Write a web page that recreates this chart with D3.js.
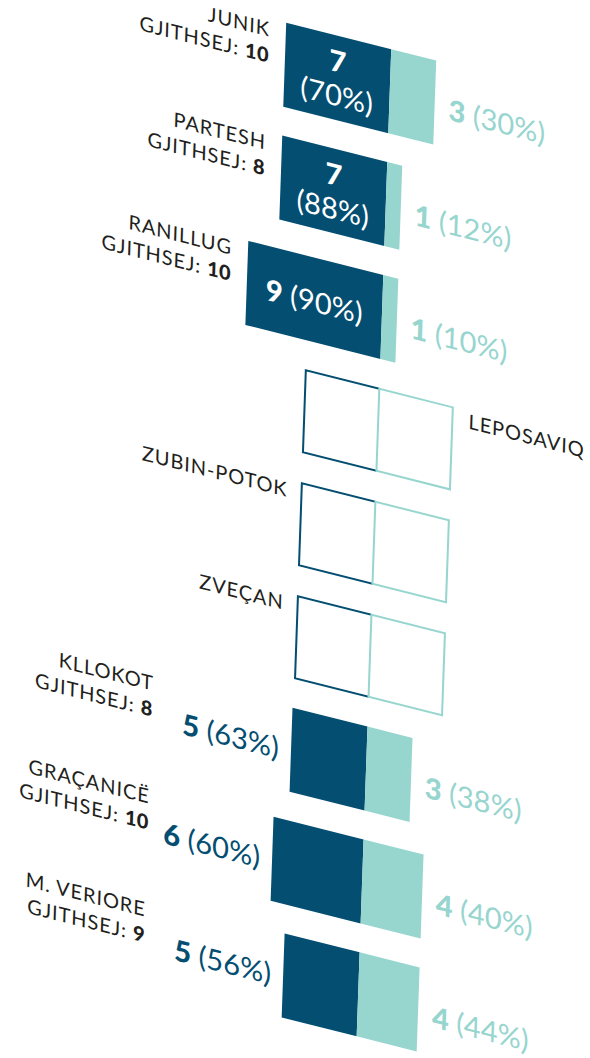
<!DOCTYPE html>
<html>
<head>
<meta charset="utf-8">
<script src="https://cdn.jsdelivr.net/npm/d3@7"></script>
<style>
  html, body { margin: 0; padding: 0; background: #fff; }
  svg { display: block; }
</style>
</head>
<body>
<script>
// Municipalities and their counts (primary / secondary share of the total)
const municipalities = ["JUNIK", "PARTESH", "RANILLUG", "LEPOSAVIQ", "ZUBIN-POTOK", "ZVEÇAN", "KLLOKOT", "GRAÇANICË", "M. VERIORE"];
const totals          = [10, 8, 10, null, null, null, 8, 10, 9];
const primaryCounts   = [7, 7, 9, null, null, null, 5, 6, 5];
const secondaryCounts = [3, 1, 1, null, null, null, 3, 4, 4];
const primaryPct      = ["70%", "88%", "90%", null, null, null, "63%", "60%", "56%"];
const secondaryPct    = ["30%", "12%", "10%", null, null, null, "38%", "40%", "44%"];
const totalPrefix = "GJITHSEJ: ";

// Layout
const W = 590, H = 1058;
const DARK = "#044e72", LIGHT = "#97d5cf", INK = "#231f20";
const FONT = "Lato, 'Open Sans', sans-serif";
const divider = 389.5;          // shared split line between the two segments
const rowStep = 112.9, barH = 84, firstTop = -49;
const emptyHalf = 73.5;         // half width of the outline drawn for rows without data
const pad = 1 - barH / rowStep;
const nameCol = 176;            // right edge of names when the value sits outside
const nameSize = 20, nameTrack = 0.9, valueSize = 29;

const rows = municipalities.map((name, i) => ({
  name, total: totals[i], p: primaryCounts[i], s: secondaryCounts[i],
  pp: primaryPct[i], sp: secondaryPct[i], empty: totals[i] == null
}));

const unit = d3.scaleLinear().domain([0, 1]).range([0, 15]);
const y = d3.scaleBand()
  .domain(municipalities)
  .range([firstTop, firstTop + rowStep * (municipalities.length - pad)])
  .paddingInner(pad).paddingOuter(0);

const svg = d3.select("body").append("svg")
  .attr("width", W).attr("height", H)
  .attr("viewBox", `0 0 ${W} ${H}`);

// The whole graphic is drawn on a slanted plane
const g = svg.append("g")
  .attr("transform", "matrix(1,0.252,-0.035,1,0,0)")
  .style("font-family", FONT);

const row = g.selectAll("g.row").data(rows).join("g")
  .attr("class", "row")
  .attr("transform", d => `translate(0,${y(d.name)})`);

// Filled bars
const filled = row.filter(d => !d.empty);
filled.append("rect")
  .attr("x", d => divider - unit(d.p)).attr("y", 0)
  .attr("width", d => unit(d.p)).attr("height", barH)
  .attr("fill", DARK);
filled.append("rect")
  .attr("x", divider).attr("y", 0)
  .attr("width", d => unit(d.s)).attr("height", barH)
  .attr("fill", LIGHT);

// Outline placeholders for rows without data
const empty = row.filter(d => d.empty);
empty.append("path")
  .attr("d", `M${divider},1 H${divider - emptyHalf} V${barH - 1} H${divider}`)
  .attr("fill", "none").attr("stroke", DARK).attr("stroke-width", 2);
empty.append("rect")
  .attr("x", divider).attr("y", 1)
  .attr("width", emptyHalf).attr("height", barH - 2)
  .attr("fill", "none").attr("stroke", LIGHT).attr("stroke-width", 2);

// Placeholder row names: first one to the right, the rest to the left
empty.append("text")
  .attr("x", (d, i) => i === 0 ? divider + emptyHalf + 16 : divider - emptyHalf - 14)
  .attr("y", 18)
  .attr("text-anchor", (d, i) => i === 0 ? "start" : "end")
  .attr("fill", INK).attr("font-size", nameSize).attr("letter-spacing", nameTrack)
  .text(d => d.name);

// Value of the primary segment: inside when the segment is wide, outside otherwise
const inside = d => d.p >= 7;
filled.each(function (d) {
  const sel = d3.select(this);
  const left = divider - unit(d.p);
  const w = unit(d.p);
  if (inside(d)) {
    const cx = left + w / 2;
    if (w > 120) {
      const t = sel.append("text").attr("x", cx).attr("y", 54)
        .attr("text-anchor", "middle").attr("fill", "#fff").attr("font-size", valueSize);
      t.append("tspan").attr("font-weight", 900).text(d.p);
      t.append("tspan").text(` (${d.pp})`);
    } else {
      sel.append("text").attr("x", cx).attr("y", 36)
        .attr("text-anchor", "middle").attr("fill", "#fff")
        .attr("font-size", valueSize).attr("font-weight", 900).text(d.p);
      sel.append("text").attr("x", cx).attr("y", 70)
        .attr("text-anchor", "middle").attr("fill", "#fff")
        .attr("font-size", valueSize).text(`(${d.pp})`);
    }
  } else {
    const t = sel.append("text").attr("x", left - 12).attr("y", 54)
      .attr("text-anchor", "end").attr("fill", DARK).attr("font-size", valueSize);
    t.append("tspan").attr("font-weight", 900).text(d.p);
    t.append("tspan").text(` (${d.pp})`);
  }

  // Secondary value, always to the right of the bar
  const r = sel.append("text").attr("x", divider + unit(d.s) + 14).attr("y", 56)
    .attr("text-anchor", "start").attr("fill", LIGHT).attr("font-size", valueSize);
  r.append("tspan").attr("font-weight", 900).text(d.s);
  r.append("tspan").text(` (${d.sp})`);

  // Name and total
  const nx = inside(d) ? left - 16 : nameCol;
  sel.append("text").attr("x", nx).attr("y", 18)
    .attr("text-anchor", "end").attr("fill", INK)
    .attr("font-size", nameSize).attr("letter-spacing", nameTrack).text(d.name);
  const tt = sel.append("text").attr("x", nx).attr("y", 44)
    .attr("text-anchor", "end").attr("fill", INK)
    .attr("font-size", nameSize).attr("letter-spacing", nameTrack);
  tt.append("tspan").text(totalPrefix);
  tt.append("tspan").attr("font-weight", 900).attr("letter-spacing", 0.3).text(d.total);
});
</script>
</body>
</html>
